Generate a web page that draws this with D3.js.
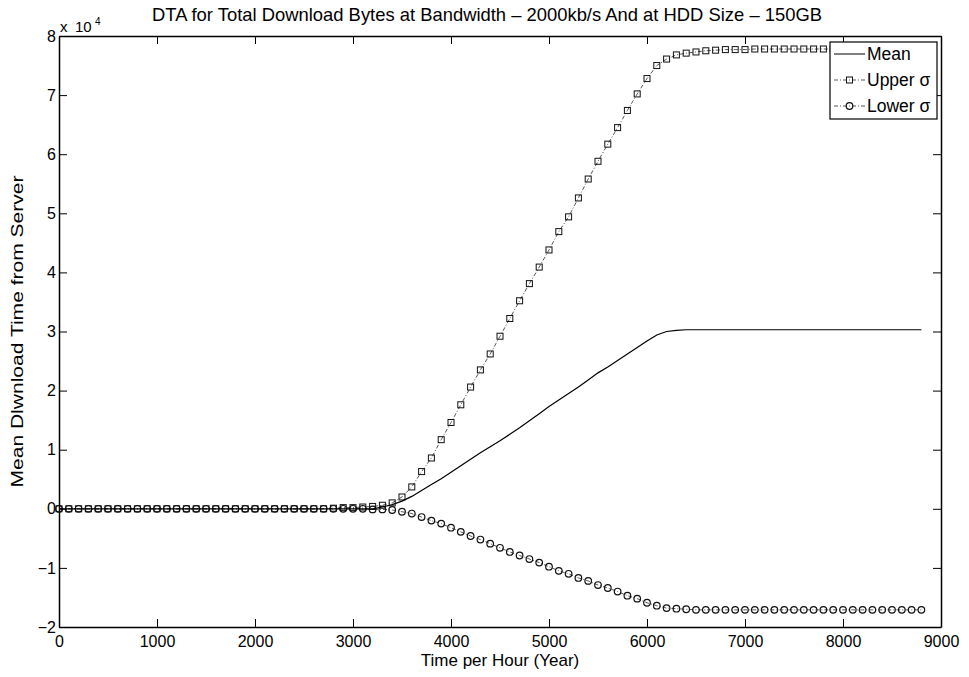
<!DOCTYPE html>
<html lang="en">
  <head>
    <meta charset="utf-8" />
    <title>DTA for Total Download Bytes</title>
    <style>
      body {
        margin: 0;
        background: #fff;
        font-family: 'Liberation Sans', Arial, sans-serif;
      }
      .axis text {
        font-size: 16px;
        fill: #000;
      }
      .axis path,
      .axis line {
        stroke: #000;
      }
    </style>
    <script src="https://d3js.org/d3.v7.min.js"></script>
  </head>

  <body>
    <svg width="969" height="677"></svg>

    <script>
      // hours, 0 .. 8800 every 100
      const hours = [
        0, 100, 200, 300, 400, 500, 600, 700, 800, 900,
        1000, 1100, 1200, 1300, 1400, 1500, 1600, 1700, 1800, 1900,
        2000, 2100, 2200, 2300, 2400, 2500, 2600, 2700, 2800, 2900,
        3000, 3100, 3200, 3300, 3400, 3500, 3600, 3700, 3800, 3900,
        4000, 4100, 4200, 4300, 4400, 4500, 4600, 4700, 4800, 4900,
        5000, 5100, 5200, 5300, 5400, 5500, 5600, 5700, 5800, 5900,
        6000, 6100, 6200, 6300, 6400, 6500, 6600, 6700, 6800, 6900,
        7000, 7100, 7200, 7300, 7400, 7500, 7600, 7700, 7800, 7900,
        8000, 8100, 8200, 8300, 8400, 8500, 8600, 8700, 8800,
      ];

      // values in units of 10^4
      const meanVals = [
        0, 0, 0, 0, 0, 0, 0, 0, 0, 0,
        0, 0, 0, 0, 0, 0, 0, 0, 0, 0,
        0, 0, 0, 0, 0, 0, 0, 0, 0, 0,
        0, 0, 0, 0.03, 0.07, 0.13, 0.21, 0.31, 0.41, 0.51,
        0.62, 0.73, 0.84, 0.95, 1.05, 1.15, 1.26, 1.37, 1.49, 1.61,
        1.73, 1.84, 1.95, 2.06, 2.18, 2.3, 2.4, 2.51, 2.62, 2.73,
        2.84, 2.94, 3.0, 3.02, 3.03, 3.03, 3.03, 3.03, 3.03, 3.03,
        3.03, 3.03, 3.03, 3.03, 3.03, 3.03, 3.03, 3.03, 3.03, 3.03,
        3.03, 3.03, 3.03, 3.03, 3.03, 3.03, 3.03, 3.03, 3.03,
      ];
      const upperVals = [
        0, 0, 0, 0, 0, 0, 0, 0, 0, 0,
        0, 0, 0, 0, 0, 0, 0, 0, 0, 0,
        0, 0, 0, 0, 0, 0, 0, 0, 0.01, 0.02,
        0.02, 0.03, 0.04, 0.06, 0.1, 0.2, 0.37, 0.63, 0.86, 1.17,
        1.46, 1.76, 2.06, 2.35, 2.62, 2.92, 3.22, 3.52, 3.81, 4.09,
        4.38, 4.69, 4.94, 5.26, 5.58, 5.88, 6.17, 6.45, 6.74, 7.02,
        7.28, 7.5, 7.61, 7.68, 7.71, 7.73, 7.75, 7.76, 7.77, 7.77,
        7.77, 7.78, 7.78, 7.78, 7.78, 7.78, 7.78, 7.78, 7.78, 7.78,
        7.78, 7.78, 7.78, 7.78, 7.78, 7.78, 7.78, 7.78, 7.78,
      ];
      const lowerVals = [
        0, 0, 0, 0, 0, 0, 0, 0, 0, 0,
        0, 0, 0, 0, 0, 0, 0, 0, 0, 0,
        0, 0, 0, 0, 0, 0, 0, 0, 0, 0,
        0, 0, -0.01, -0.01, -0.02, -0.05, -0.08, -0.14, -0.2, -0.25,
        -0.32, -0.39, -0.46, -0.52, -0.59, -0.66, -0.73, -0.79, -0.85, -0.91,
        -0.98, -1.05, -1.1, -1.17, -1.22, -1.29, -1.34, -1.4, -1.47, -1.52,
        -1.59, -1.64, -1.68, -1.69, -1.7, -1.71, -1.71, -1.71, -1.71, -1.71,
        -1.71, -1.71, -1.71, -1.71, -1.71, -1.71, -1.71, -1.71, -1.71, -1.71,
        -1.71, -1.71, -1.71, -1.71, -1.71, -1.71, -1.71, -1.71, -1.71,
      ];

      const xTicks = [0, 1000, 2000, 3000, 4000, 5000, 6000, 7000, 8000, 9000];
      const yTicks = [-2, -1, 0, 1, 2, 3, 4, 5, 6, 7, 8];
      const legendLabels = ['Mean', 'Upper σ', 'Lower σ'];

      const svg = d3.select('svg');
      const m = { left: 59, top: 36, right: 28, bottom: 50 };
      const W = 969 - m.left - m.right;
      const H = 677 - m.top - m.bottom;
      const g = svg
        .append('g')
        .attr('transform', `translate(${m.left},${m.top})`);

      const x = d3.scaleLinear().domain([0, 9000]).range([0, W]);
      const y = d3.scaleLinear().domain([-2, 8]).range([H, 0]);
      const fmtY = (d) => (d < 0 ? '\u2212' + Math.abs(d) : '' + d);

      // axes, ticks pointing inward on all four sides
      g.append('g')
        .attr('class', 'axis')
        .attr('transform', `translate(0,${H})`)
        .call(d3.axisBottom(x).tickValues(xTicks).tickFormat(d3.format('d')).tickSizeInner(-8).tickSizeOuter(0).tickPadding(5))
        .call((a) => a.selectAll('text').attr('dy', '0.95em'));
      g.append('g')
        .attr('class', 'axis')
        .call(d3.axisTop(x).tickValues(xTicks).tickSizeInner(-8).tickSizeOuter(0))
        .call((a) => a.selectAll('text').remove());
      g.append('g')
        .attr('class', 'axis')
        .call(d3.axisLeft(y).tickValues(yTicks).tickFormat(fmtY).tickSizeInner(-8).tickSizeOuter(0).tickPadding(3));
      g.append('g')
        .attr('class', 'axis')
        .attr('transform', `translate(${W},0)`)
        .call(d3.axisRight(y).tickValues(yTicks).tickSizeInner(-8).tickSizeOuter(0))
        .call((a) => a.selectAll('text').remove());
      g.selectAll('.axis path').attr('stroke-width', 1.5);
      g.selectAll('.axis line').attr('stroke-width', 1);

      const pts = (vals) => hours.map((h, i) => [h, vals[i]]);
      const line = d3
        .line()
        .x((d) => x(d[0]))
        .y((d) => y(d[1]));

      // upper / lower sigma (dash-dot + markers)
      [upperVals, lowerVals].forEach((vals) => {
        g.append('path')
          .datum(pts(vals))
          .attr('d', line)
          .attr('fill', 'none')
          .attr('stroke', '#555')
          .attr('stroke-width', 1)
          .attr('stroke-dasharray', '4,2,1,2');
      });
      g.selectAll('.sq')
        .data(pts(upperVals))
        .join('rect')
        .attr('x', (d) => x(d[0]) - 3)
        .attr('y', (d) => y(d[1]) - 3)
        .attr('width', 6)
        .attr('height', 6)
        .attr('fill', 'none')
        .attr('stroke', '#111')
        .attr('stroke-width', 1);
      g.selectAll('.circ')
        .data(pts(lowerVals))
        .join('circle')
        .attr('cx', (d) => x(d[0]))
        .attr('cy', (d) => y(d[1]))
        .attr('r', 3.3)
        .attr('fill', 'none')
        .attr('stroke', '#111')
        .attr('stroke-width', 1.2);

      // mean
      g.append('path')
        .datum(pts(meanVals))
        .attr('d', line)
        .attr('fill', 'none')
        .attr('stroke', '#000')
        .attr('stroke-width', 1.2);

      // exponent
      svg.append('text').attr('x', 60).attr('y', 32).attr('font-size', 15).text('x');
      svg.append('text').attr('x', 75).attr('y', 32).attr('font-size', 15).text('10');
      svg.append('text').attr('x', 95).attr('y', 25).attr('font-size', 10).text('4');

      // title and labels
      svg.append('text')
        .attr('x', 487)
        .attr('y', 21)
        .attr('text-anchor', 'middle')
        .attr('font-size', 18.5)
        .attr('textLength', 670)
        .attr('lengthAdjust', 'spacingAndGlyphs')
        .text('DTA for Total Download Bytes at Bandwidth – 2000kb/s And at HDD Size – 150GB');
      svg.append('text')
        .attr('x', m.left + W / 2)
        .attr('y', 666)
        .attr('text-anchor', 'middle')
        .attr('font-size', 17)
        .text('Time per Hour (Year)');
      svg.append('text')
        .attr('transform', `translate(23,${m.top + H / 2}) rotate(-90)`)
        .attr('text-anchor', 'middle')
        .attr('font-size', 16.5)
        .attr('textLength', 312)
        .attr('lengthAdjust', 'spacingAndGlyphs')
        .text('Mean Dlwnload Time from Server');

      // legend
      const lg = svg.append('g').attr('transform', 'translate(830,42)');
      lg.append('rect')
        .attr('width', 107)
        .attr('height', 77)
        .attr('fill', '#fff')
        .attr('stroke', '#000')
        .attr('stroke-width', 1.2);
      legendLabels.forEach((lab, i) => {
        const yy = 12 + i * 26;
        lg.append('line')
          .attr('x1', 4)
          .attr('x2', 35)
          .attr('y1', yy)
          .attr('y2', yy)
          .attr('stroke', i === 0 ? '#000' : '#555')
          .attr('stroke-width', 1)
          .attr('stroke-dasharray', i === 0 ? null : '4,2,1,2');
        if (i === 1) {
          lg.append('rect').attr('x', 16.5).attr('y', yy - 3).attr('width', 6).attr('height', 6)
            .attr('fill', 'none').attr('stroke', '#111');
        }
        if (i === 2) {
          lg.append('circle').attr('cx', 19.5).attr('cy', yy).attr('r', 3.3)
            .attr('fill', 'none').attr('stroke', '#111').attr('stroke-width', 1.2);
        }
        lg.append('text')
          .attr('x', 37)
          .attr('y', yy)
          .attr('dy', '0.35em')
          .attr('font-size', 17.5)
          .text(lab);
      });
    </script>
  </body>
</html>
